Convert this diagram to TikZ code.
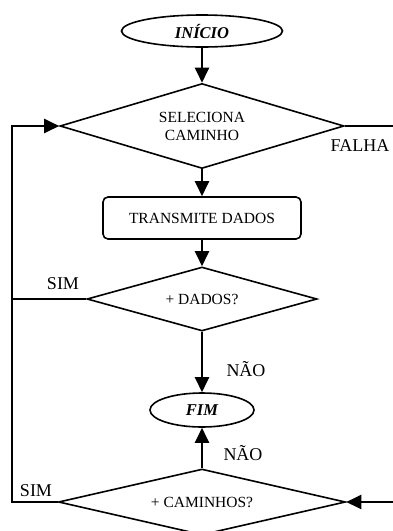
\documentclass[tikz,border=0pt]{standalone}
\usepackage{fontspec}
\setmainfont{Liberation Serif}
\usetikzlibrary{shapes.geometric,arrows.meta}
\begin{document}
\begin{tikzpicture}[x=1pt,y=-1pt,
  shapeline/.style={draw=black,line width=1.6pt},
  decision/.style={shapeline,diamond,inner sep=0pt,align=center,font=\fontsize{15.5}{18}\selectfont},
  terminal/.style={shapeline,ellipse,inner sep=0pt,font=\fontsize{16.5}{18}\selectfont\bfseries\itshape},
  process/.style={shapeline,rectangle,rounded corners=5pt,inner sep=0pt,font=\fontsize{15.5}{18}\selectfont},
  conn/.style={draw=black,line width=2.3pt},
  arrowed/.style={conn,-{Triangle[length=15pt,width=14pt]}},
  lbl/.style={font=\fontsize{18}{20}\selectfont,inner sep=0pt}]
  \useasboundingbox (0,0) rectangle (393,531);
  \clip (0,0) rectangle (393,531);

  % nodes
  \node[terminal,minimum width=161pt,minimum height=32pt] (inicio) at (202,31) {INÍCIO};
  \node[decision,aspect=3.34,minimum width=284pt,minimum height=85pt] (sel) at (202,126) {SELECIONA\\CAMINHO};
  \node[process,minimum width=198pt,minimum height=42pt] (tx) at (202,218) {TRANSMITE DADOS};
  \node[decision,aspect=3.6,minimum width=230pt,minimum height=64pt] (dados) at (202,299) {+ DADOS?};
  \node[terminal,minimum width=104pt,minimum height=34pt] (fim) at (202,410) {FIM};
  \node[decision,aspect=4.35,minimum width=287pt,minimum height=66pt] (cam) at (202,502) {+ CAMINHOS?};

  % free ends and loop corners
  \coordinate (falhaend) at (393,126);
  \coordinate (retorno) at (393,502);
  \coordinate (loopA) at (12,299);
  \coordinate (loopB) at (12,502);

  % connectors
  \draw[arrowed] (inicio.south) -- (sel.north);
  \draw[arrowed] (sel.south) -- (tx.north);
  \draw[arrowed] (tx.south) -- (dados.north);
  \draw[arrowed] (dados.south) -- (fim.north);
  \draw[arrowed] (cam.north) -- (fim.south);
  \draw[conn] (sel.east) -- (falhaend);
  \draw[arrowed] (retorno) -- (cam.east);
  \draw[conn] (dados.west) -- (loopA);
  \draw[arrowed] (cam.west) -- (loopB) |- (sel.west);

  % labels
  \node[lbl] (falha) at (360,146) {FALHA};
  \node[lbl] (sim1) at (63,284) {SIM};
  \node[lbl] (nao1) at (246,369) {NÃO};
  \node[lbl] (nao2) at (243,453) {NÃO};
  \node[lbl] (sim2) at (36,491) {SIM};
\end{tikzpicture}
\end{document}
